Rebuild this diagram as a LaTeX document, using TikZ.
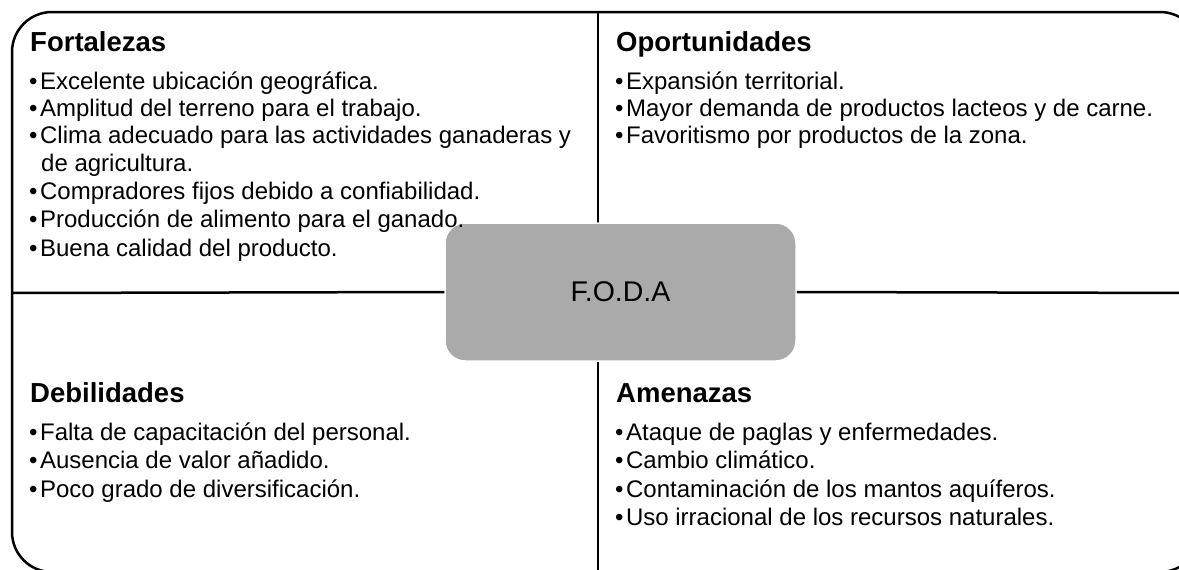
\documentclass[tikz,border=0pt]{standalone}
\usepackage{fontspec}
\setmainfont{Liberation Sans}
\usetikzlibrary{positioning}

\definecolor{grisfoda}{HTML}{AAAAAA}

\tikzset{
  marco/.style={line width=2.5pt},
  titulo/.style={anchor=base west, inner sep=0pt, font=\fontsize{27.5}{32}\selectfont\bfseries},
  punto/.style={anchor=base west, inner sep=0pt, font=\fontsize{24}{28}\selectfont},
  centro/.style={fill=grisfoda, draw=white, line width=1.5pt, rounded corners=20pt,
    minimum width=351pt, minimum height=138pt, inner sep=0pt,
    font=\fontsize{28.5}{32}\selectfont},
}

\begin{document}
\begin{tikzpicture}[x=1pt,y=-1pt]
\useasboundingbox (0,0) rectangle (1179,570);

% marco y divisiones
\draw[marco,rounded corners=40pt] (12,12) rectangle (1200,572);
\coordinate (arriba) at (598,12);
\coordinate (abajo) at (598,572);
\coordinate (izq) at (12,293);
\coordinate (der) at (1200,293);
\draw[marco] (arriba) -- (abajo);

\node[centro] (foda) at (620.5,292) {F.O.D.A};
\draw[marco] (izq) -- (foda.west);
\draw[marco] (foda.east) -- (der);

% Fortalezas
\node[titulo] (fort) at (30,51) {Fortalezas};
\foreach \y/\t [count=\i] in {89/Excelente ubicación geográfica.,
    116/Amplitud del terreno para el trabajo.,
    143/Clima adecuado para las actividades ganaderas y,
    199/Compradores fijos debido a confiabilidad.,
    227/Producción de alimento para el ganado.,
    256/Buena calidad del producto.}
  \node[punto] (fort\i) at (29,\y) {\textbullet\hspace{2.5pt}\t};
\node[punto] (fortc) at (41,171) {de agricultura.};

% Oportunidades
\node[titulo] (opor) at (616,51) {Oportunidades};
\foreach \y/\t [count=\i] in {89/Expansión territorial.,
    116/Mayor demanda de productos lacteos y de carne.,
    143/Favoritismo por productos de la zona.}
  \node[punto] (opor\i) at (615,\y) {\textbullet\hspace{2.5pt}\t};

% Debilidades
\node[titulo] (debi) at (30,402) {Debilidades};
\foreach \y/\t [count=\i] in {440/Falta de capacitación del personal.,
    468/Ausencia de valor añadido.,
    497/Poco grado de diversificación.}
  \node[punto] (debi\i) at (29,\y) {\textbullet\hspace{2.5pt}\t};

% Amenazas
\node[titulo] (amen) at (616,402) {Amenazas};
\foreach \y/\t [count=\i] in {440/Ataque de paglas y enfermedades.,
    468/Cambio climático.,
    497/Contaminación de los mantos aquíferos.,
    525/Uso irracional de los recursos naturales.}
  \node[punto] (amen\i) at (615,\y) {\textbullet\hspace{2.5pt}\t};
\end{tikzpicture}
\end{document}
